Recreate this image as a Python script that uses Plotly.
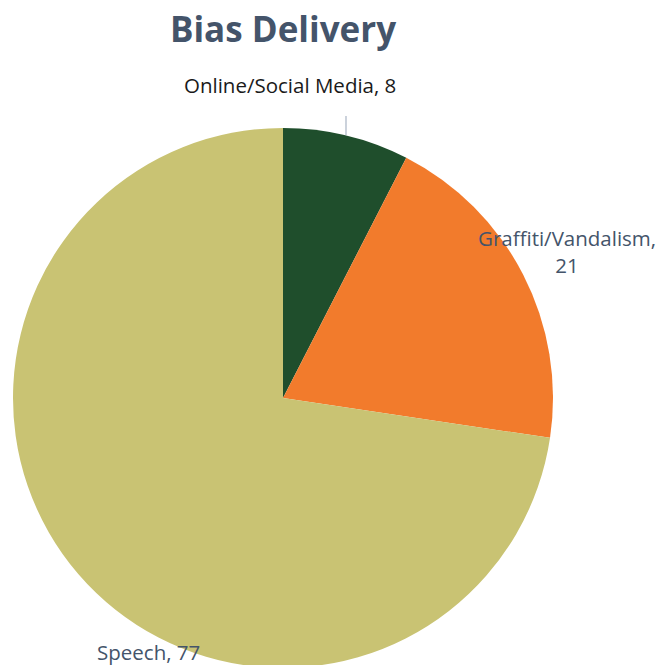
import plotly.graph_objects as go

categories = ["Online/Social Media", "Graffiti/Vandalism", "Speech"]
values = [8, 21, 77]
colors = ["#1F4E2C", "#F27B2C", "#C9C373"]

W, H = 664, 665
OFF = 8  # page body margin


def px(x):
    return (x - OFF) / W


def py(y):
    return 1 - (y - OFF) / H


fig = go.Figure(go.Pie(
    labels=categories, values=values, sort=False, direction="clockwise", rotation=0,
    marker=dict(colors=colors, line=dict(width=0)),
    textinfo="none", hoverinfo="label+value", showlegend=False,
    domain=dict(x=[px(13), px(553)], y=[py(668), py(128)]),
))

font = "Open Sans"
ann = [
    dict(text=f"{categories[0]}, {values[0]}", x=px(290), y=py(85), color="#1a1a1a"),
    dict(text=f"{categories[1]},<br>{values[1]}", x=px(567), y=py(251), color="#44546A"),
    dict(text=f"{categories[2]}, {values[2]}", x=px(148), y=py(652), color="#44546A"),
]
annotations = [
    dict(text=a["text"], x=a["x"], y=a["y"], xref="paper", yref="paper",
         showarrow=False, xanchor="center", yanchor="middle",
         font=dict(family=font, size=20.5, color=a["color"]))
    for a in ann
]

fig.update_layout(
    width=W, height=H,
    margin=dict(l=0, r=0, t=0, b=0),
    paper_bgcolor="white", plot_bgcolor="white",
    title=dict(text="<b>Bias Delivery</b>", x=px(283), xanchor="center",
               y=py(30), yanchor="middle",
               font=dict(family=font, size=35, color="#44546A")),
    annotations=annotations,
    shapes=[dict(type="line", xref="paper", yref="paper",
                 x0=px(346), x1=px(346), y0=py(116), y1=py(135),
                 line=dict(color="#A9B4C4", width=1.2))],
)

fig.write_html("out.html")
